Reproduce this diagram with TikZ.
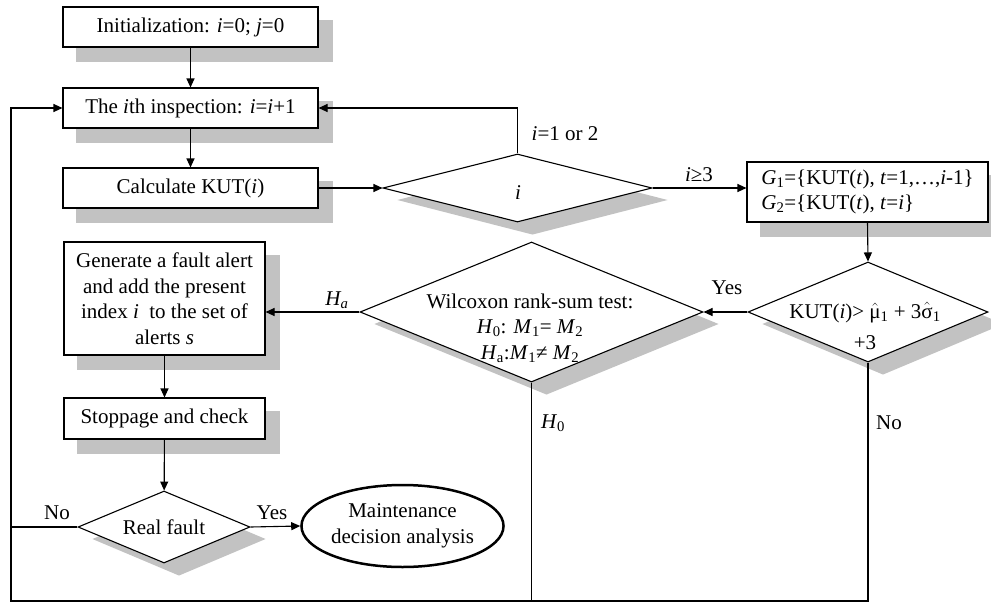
\documentclass[tikz,border=0pt]{standalone}
\usepackage{fontspec}
\setmainfont{Liberation Serif}
\usetikzlibrary{arrows.meta, positioning, shapes.geometric, backgrounds}
\newcommand{\hatted}[1]{$\hat{\mbox{#1}}$}

\begin{document}
\begin{tikzpicture}[x=1pt, y=-1pt, line width=1.1pt,
  font=\fontsize{21}{25.5}\selectfont,
  box/.style={draw, fill=white, inner sep=0pt, minimum width=255pt, minimum height=40pt},
  dia/.style={draw, fill=white, diamond, aspect=2.4, inner sep=0pt},
  shadowfill/.style={fill=black!24},
  arr/.style={-{Triangle[length=9pt,width=8pt]}}]
  \useasboundingbox (0,0) rectangle (991,603);
  % Boxes
  \node[box] (init) at (190.5,27) {Initialization: \textit{i}=0; \textit{j}=0};
  \node[box] (insp) at (190.5,108) {The \textit{i}th inspection: \textit{i}=\textit{i}+1};
  \node[box] (calc) at (190.5,188) {Calculate KUT(\textit{i})};
  \node[box, minimum width=241pt, minimum height=60pt, align=left] (grp) at (867.5,192)
    {\textit{G}\textsubscript{1}=\{KUT(\textit{t}), \textit{t}=1,…,\textit{i}-1\}\\
     \textit{G}\textsubscript{2}=\{KUT(\textit{t}), \textit{t}=\textit{i}\}};
  \node[box, minimum width=201pt, minimum height=113pt, align=center] (gen) at (164.5,298.5)
    {Generate a fault alert\\and add the present\\index \textit{i} ~to the set of\\alerts \textit{s}};
  \node[box, minimum width=201pt, minimum height=41pt] (stop) at (164.5,418.5) {Stoppage and check};
  % Decisions
  \node[dia, minimum width=269pt, minimum height=68pt] (dsel) at (517.5,188) {};
  \node (dseltxt) at (518,193) {\textit{i}};
  \node[dia, minimum width=240pt, minimum height=100pt] (dkut) at (868,312) {};
  \node[align=center] (kuttxt) at (865,326)
    {KUT(\textit{i})> \hatted{μ}\textsubscript{1} + 3\hatted{σ}\textsubscript{1}\\[6pt]+3};
  \node[dia, minimum width=343pt, minimum height=140pt] (dwil) at (531.5,312) {};
  \node[align=center] (wiltxt) at (530,328)
    {Wilcoxon rank-sum test:\\
     \textit{H}\textsubscript{0}: \textit{M}\textsubscript{1}= \textit{M}\textsubscript{2}\\
     \textit{H}\textsubscript{a}:\textit{M}\textsubscript{1}≠ \textit{M}\textsubscript{2}};
  \node[dia, minimum width=172pt, minimum height=72pt] (dreal) at (164,527) {Real fault};
  \node[draw, ellipse, line width=2.5pt, fill=white, inner sep=0pt, minimum width=195pt,
    minimum height=82pt, align=center] (ell) at (402.5,526) {Maintenance\\decision analysis};
  % Shadows
  \begin{scope}[on background layer]
    \foreach \n in {init,insp,calc,grp,gen,stop}
      \fill[shadowfill] ([shift={(14,14)}]\n.north west) rectangle ([shift={(14,14)}]\n.south east);
    \foreach \n in {dsel,dkut,dwil,dreal}
      \fill[shadowfill] ([shift={(15,12)}]\n.north) -- ([shift={(15,12)}]\n.east)
        -- ([shift={(15,12)}]\n.south) -- ([shift={(15,12)}]\n.west) -- cycle;
  \end{scope}
  % Connectors
  \coordinate (bl) at (11,601);
  \draw[arr] (init) -- (insp);
  \draw[arr] (insp) -- (calc);
  \draw[arr] (calc.east) -- (dsel.west);
  \draw[arr] (dsel.north) |- (insp.east);
  \draw[arr] (dsel.east) -- (dsel.east -| grp.west);
  \draw[arr] (grp.south) -- (dkut.north);
  \draw[arr] (dkut.west) -- (dwil.east);
  \draw[arr] (dwil.west) -- (dwil.west -| gen.east);
  \draw[arr] (gen) -- (stop);
  \draw[arr] (stop) -- (dreal);
  \draw[arr] (dreal.east) -- (ell.west);
  \draw[arr] (dkut.south) |- (bl) |- (insp.west);
  \draw (dwil.south) -- (dwil.south |- bl);
  \draw (dreal.west) -- (dreal.west -| bl);
  % Labels
  \node (l12) at (565,134) {\textit{i}=1 or 2};
  \node (lge3) at (699,175) {\textit{i}≥3};
  \node (lyes1) at (727,288) {Yes};
  \node (lha) at (337,300) {\textit{H\textsubscript{a}}};
  \node (lh0) at (553,423) {\textit{H}\textsubscript{0}};
  \node (lno1) at (889,423) {No};
  \node (lno2) at (57,513) {No};
  \node (lyes2) at (272,513) {Yes};
\end{tikzpicture}
\end{document}
